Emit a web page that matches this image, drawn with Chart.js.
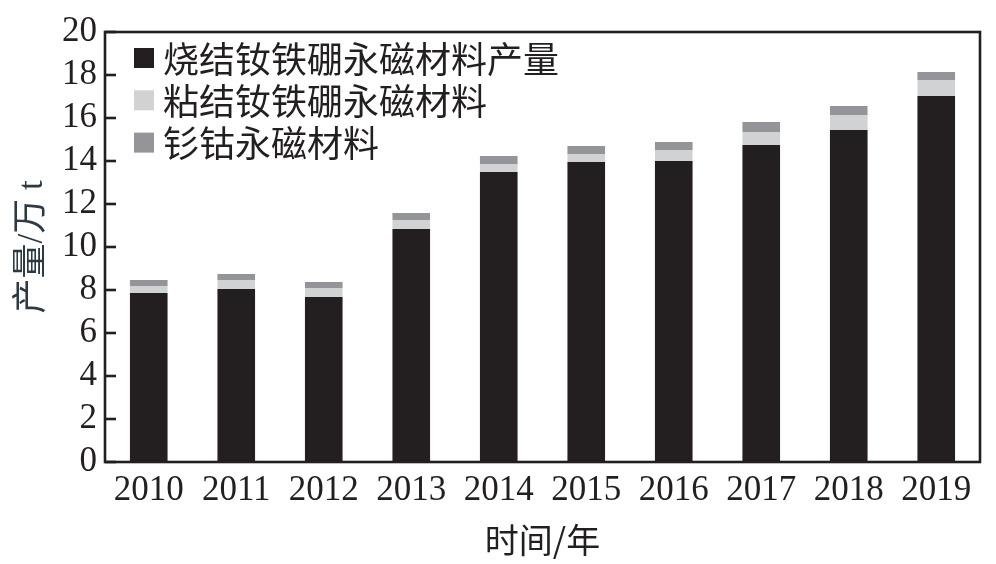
<!DOCTYPE html>
<html>
<head>
<meta charset="utf-8">
<script src="https://cdn.jsdelivr.net/npm/chart.js@4.4.0/dist/chart.umd.min.js"></script>
<style>
  html, body { margin: 0; padding: 0; background: #fff; }
  #wrap { width: 996px; height: 564px; }
</style>
</head>
<body>
<div id="wrap"><canvas id="chart" width="996" height="564"></canvas></div>
<script>
const years = ["2010","2011","2012","2013","2014","2015","2016","2017","2018","2019"];
const sintered = [7.86, 8.05, 7.67, 10.84, 13.49, 13.95, 14.00, 14.74, 15.44, 17.02];
const bonded   = [0.33, 0.42, 0.42, 0.42, 0.37, 0.38, 0.51, 0.61, 0.70, 0.75];
const smco     = [0.28, 0.27, 0.28, 0.32, 0.37, 0.37, 0.37, 0.46, 0.42, 0.37];
const seriesNames = ["烧结钕铁硼永磁材料产量", "粘结钕铁硼永磁材料", "钐钴永磁材料"];
const seriesColors = ["#231f20", "#d1d2d4", "#939598"];

const ink = "#231f20";
const serif = "'Liberation Serif', 'Noto Sans CJK SC', serif";
const cjk = "'Noto Sans CJK SC', sans-serif";

// box around plot + inward ticks on the left axis
const frame = {
    id: "frame",
    afterDraw(chart){
        const {ctx, chartArea:a, scales} = chart;
        ctx.save();
        ctx.strokeStyle = ink;
        ctx.lineWidth = 2.6;
        scales.y.ticks.forEach((t, i) => {
            const y = scales.y.getPixelForTick(i);
            ctx.beginPath();
            ctx.moveTo(a.left, y);
            ctx.lineTo(a.left + 11, y);
            ctx.stroke();
        });
        ctx.strokeRect(a.left, a.top, a.right - a.left, a.bottom - a.top);
        ctx.restore();
    }
};

// vertical legend in the top-left corner
const legendBox = {
    id: "legendBox",
    afterDraw(chart){
        const {ctx, chartArea:a} = chart;
        ctx.save();
        ctx.font = "36px " + cjk;
        ctx.textBaseline = "middle";
        chart.data.datasets.forEach((ds, i) => {
            const cy = 58 + 42.3 * i;
            ctx.fillStyle = ds.backgroundColor;
            ctx.fillRect(a.left + 29, cy - 10, 20, 20);
            ctx.fillStyle = ink;
            ctx.fillText(ds.label, a.left + 58, cy + 1);
        });
        ctx.restore();
    }
};

new Chart(document.getElementById("chart"), {
    type: "bar",
    data: {
        labels: years,
        datasets: [
            {label: seriesNames[0], data: sintered, backgroundColor: seriesColors[0]},
            {label: seriesNames[1], data: bonded, backgroundColor: seriesColors[1]},
            {label: seriesNames[2], data: smco, backgroundColor: seriesColors[2]}
        ]
    },
    options: {
        responsive: false,
        animation: false,
        layout: {padding: {top: 32, right: 16, left: 0, bottom: 0}},
        datasets: {bar: {categoryPercentage: 1, barPercentage: 0.43, borderWidth: 0}},
        plugins: {legend: {display: false}, tooltip: {enabled: false}},
        scales: {
            x: {
                stacked: true,
                grid: {display: false, drawTicks: false},
                border: {display: false},
                ticks: {color: ink, font: {family: serif, size: 35}, padding: 8, maxRotation: 0, autoSkip: false},
                title: {display: true, text: "时间/年", color: ink, font: {family: cjk, size: 34}, padding: {bottom: 4}},
                afterFit(s){ s.height = 102; }
            },
            y: {
                stacked: true,
                min: 0, max: 20,
                grid: {display: false, drawTicks: false},
                border: {display: false},
                ticks: {stepSize: 2, autoSkip: false, color: ink, font: {family: serif, size: 35}, padding: 8},
                title: {display: true, text: "产量/万 t", color: "#2b3a44", font: {family: serif, size: 35}, padding: {top: 12}},
                afterFit(s){ s.width = 105; }
            }
        }
    },
    plugins: [frame, legendBox]
});
</script>
</body>
</html>
